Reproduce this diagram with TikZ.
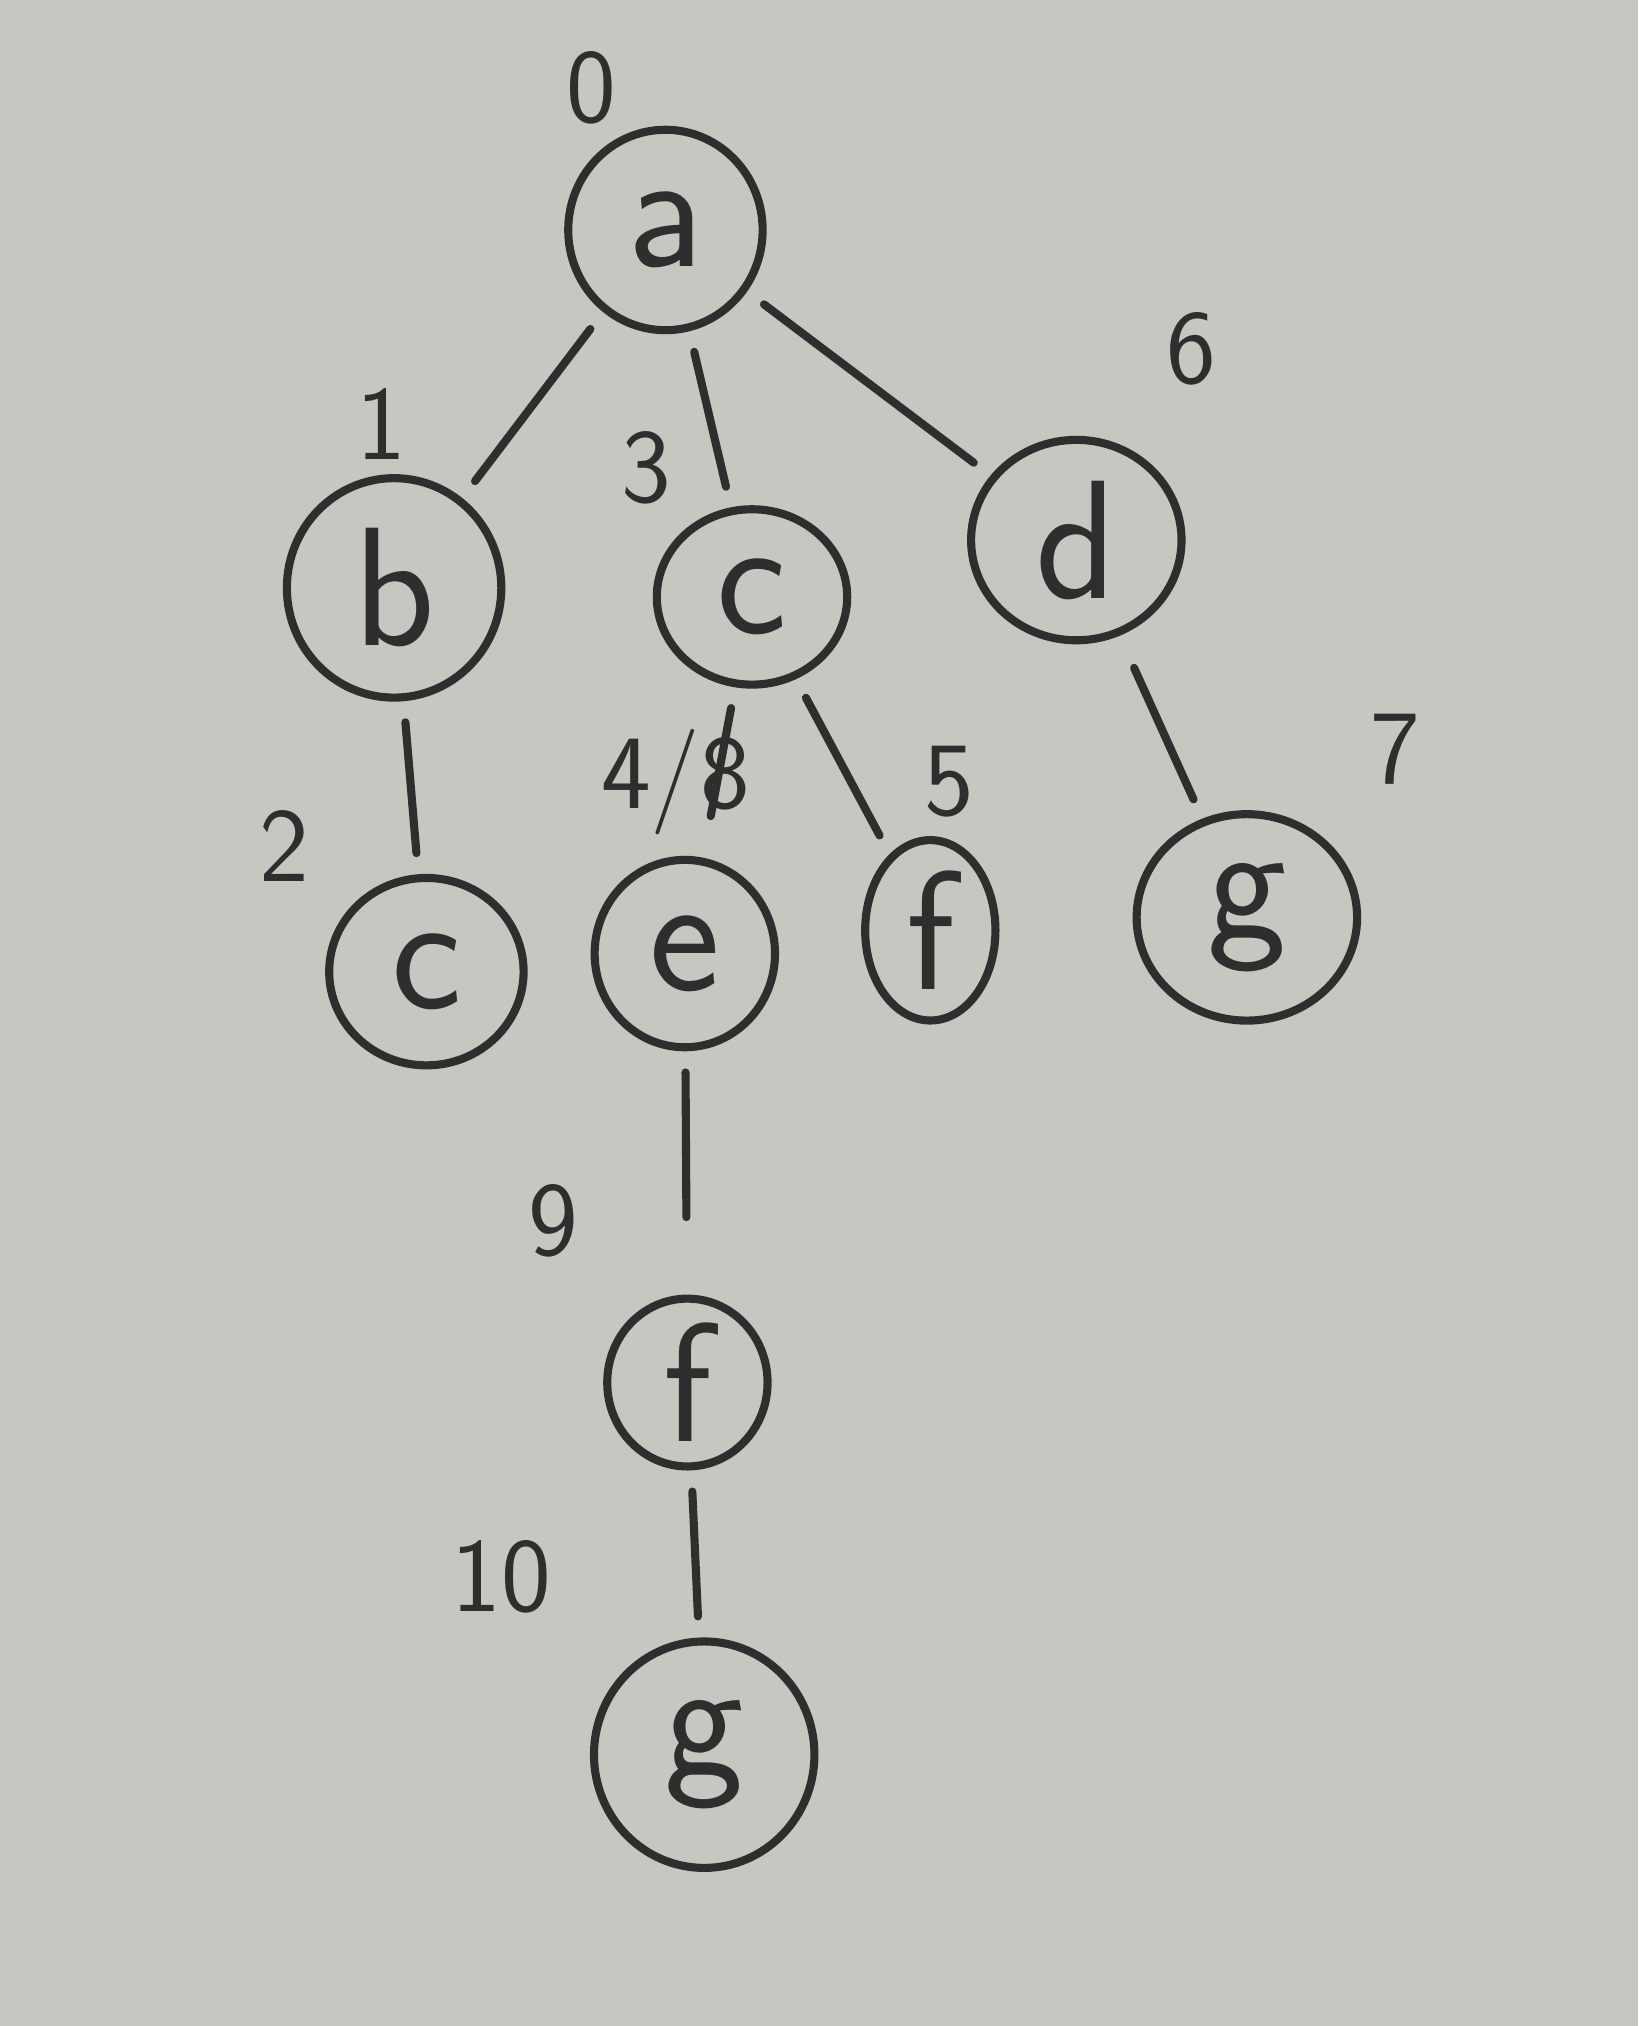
\documentclass[tikz,border=0pt]{standalone}
\usetikzlibrary{shapes.geometric}
\definecolor{paper}{HTML}{C8C6C1}
\definecolor{ink}{HTML}{2E2E2E}
\begin{document}
\begin{tikzpicture}[x=0.0129cm,y=-0.0129cm,
  vtx/.style={draw=ink,ellipse,line width=2.3pt,inner sep=0pt,text=ink,
    font=\sffamily\fontsize{48}{56}\selectfont},
  edge/.style={draw=ink,line width=2.3pt,line cap=round,shorten <=6pt,shorten >=6pt},
  num/.style={text=ink,font=\sffamily\fontsize{30}{36}\selectfont,inner sep=0pt}]
\fill[paper] (0,0) rectangle (1268,1568);
\useasboundingbox (0,0) rectangle (1268,1568);
% vertices
\node[vtx,minimum width=1.94cm,minimum height=2.0cm]  (a)  at (515,178)  {a};
\node[vtx,minimum width=2.14cm,minimum height=2.19cm] (b)  at (305,455)  {b};
\node[vtx,minimum width=1.9cm,minimum height=1.75cm]  (cm) at (582,462)  {c};
\node[vtx,minimum width=2.1cm,minimum height=2.0cm]   (d)  at (833,418)  {d};
\node[vtx,minimum width=1.94cm,minimum height=1.87cm] (cl) at (330,752)  {c};
\node[vtx,minimum width=1.8cm,minimum height=1.87cm]  (e)  at (530,738)  {e};
\node[vtx,minimum width=1.3cm,minimum height=1.8cm]   (f)  at (720,720)  {f};
\node[vtx,minimum width=2.2cm,minimum height=2.06cm]  (gr) at (965,710)  {g};
\node[vtx,minimum width=1.6cm,minimum height=1.55cm]  (fl) at (532,1070) {f};
\node[vtx,minimum width=2.2cm,minimum height=2.26cm]  (gb) at (545,1358) {g};
% edges
\draw[edge] (a) -- (b);
\draw[edge] (a) -- (cm);
\draw[edge] (a) -- (d);
\draw[edge] (b) -- (cl);
\draw[edge,shorten >=12pt] (cm) -- (e);
\draw[edge] (cm) -- (f);
\draw[edge,shorten <=10pt] (d) -- (gr);
\draw[edge,shorten >=22pt] (e) -- (fl);
\draw[edge] (fl) -- (gb);
% order labels
\node[num] (n0)  at (458,68)   {0};
\node[num] (n1)  at (295,328)  {1};
\node[num] (n3)  at (500,362)  {3};
\node[num] (n6)  at (922,270)  {6};
\node[num] (n2)  at (220,655)  {2};
\node[num] (n48) at (523,605)  {4/8};
\node[num] (n5)  at (735,605)  {5};
\node[num] (n7)  at (1080,580) {7};
\node[num] (n9)  at (428,945)  {9};
\node[num] (n10) at (388,1220) {10};
\end{tikzpicture}
\end{document}
